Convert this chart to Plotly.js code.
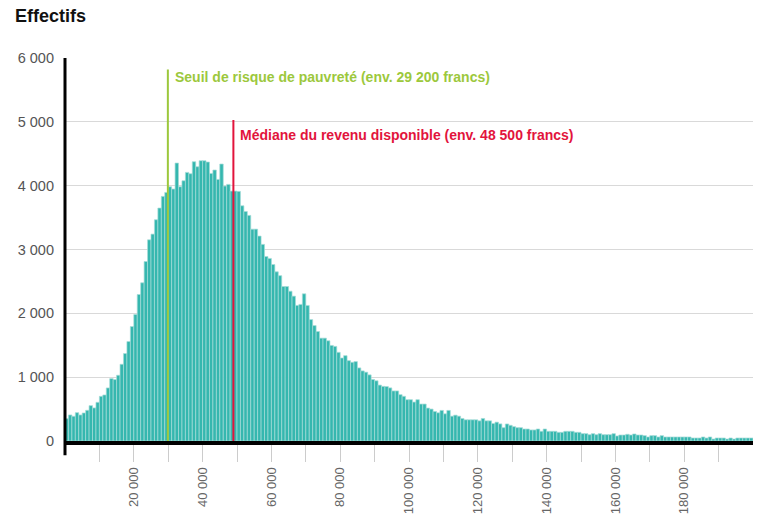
<!DOCTYPE html>
<html>
<head>
<meta charset="utf-8">
<script src="https://cdn.plot.ly/plotly-3.0.1.min.js"></script>
<style>html,body{margin:0;padding:0;background:#fff;}#chart{width:757px;height:519px;}</style>
</head>
<body>
<div id="chart"></div>
<script>
// Bin starts (francs), bin width 1000
const binWidth = 1000;
// Counts per 1000-franc bin, from 0 to 199 000
const counts = [
  350, 408, 387, 444, 408, 439, 481, 554, 518, 606,
  700, 721, 831, 977, 962, 1030, 1202, 1370, 1558, 1793,
  1981, 2295, 2478, 2812, 3152, 3241, 3466, 3649, 3832, 3894,
  3983, 3947, 4354, 3983, 4077, 4208, 4187, 4375, 4297, 4391,
  4391, 4370, 4192, 4245, 4098, 4339, 3994, 4020, 3915, 3915,
  3910, 3685, 3596, 3534, 3319, 3319, 3210, 3080, 2890, 2860,
  2765, 2650, 2590, 2420, 2420, 2347, 2269, 2124, 2140, 2306,
  2124, 1902, 1808, 1715, 1611, 1611, 1570, 1497, 1482, 1389,
  1300, 1337, 1259, 1233, 1244, 1145, 1098, 1078, 1036, 964,
  943, 876, 856, 853, 832, 784, 784, 726, 700, 647,
  647, 610, 647, 579, 579, 516, 500, 463, 442, 479,
  426, 479, 389, 405, 389, 353, 332, 332, 332, 332,
  316, 353, 316, 316, 274, 295, 268, 209, 267, 246,
  225, 209, 209, 188, 188, 173, 173, 188, 152, 188,
  152, 152, 152, 136, 136, 152, 152, 152, 136, 136,
  115, 115, 99, 115, 99, 115, 99, 99, 99, 115,
  79, 94, 94, 105, 94, 110, 94, 94, 84, 63,
  84, 84, 63, 84, 63, 63, 63, 63, 63, 63,
  63, 63, 47, 47, 47, 63, 47, 63, 31, 47,
  47, 47, 31, 47, 31, 47, 47, 47, 47, 47
];
const binCenters = counts.map((_, i) => i * binWidth + binWidth / 2);

// Axis ticks
const xTickVals = [10000, 20000, 30000, 40000, 50000, 60000, 70000, 80000, 90000, 100000,
                   110000, 120000, 130000, 140000, 150000, 160000, 170000, 180000, 190000];
const xTickText = ['', '20 000', '', '40 000', '', '60 000', '', '80 000', '', '100 000',
                   '', '120 000', '', '140 000', '', '160 000', '', '180 000', ''];
const yTickVals = [0, 1000, 2000, 3000, 4000, 5000, 6000];
const yTickText = ['0', '1 000', '2 000', '3 000', '4 000', '5 000', '6 000'];

// Reference lines (positions)
const povertyLine = 29900;
const povertyTop = 5820;
const povertyLabel = 'Seuil de risque de pauvreté (env. 29 200 francs)';
const medianLine = 48950;
const medianTop = 5030;
const medianLabel = 'Médiane du revenu disponible (env. 48 500 francs)';

const FONT = '"Liberation Sans", Arial, sans-serif';
const GREEN = '#9cc83c';
const RED = '#e2143c';

const trace = {
  type: 'bar',
  x: binCenters,
  y: counts,
  width: binWidth,
  marker: { color: '#35b7af', line: { color: '#a6dcd8', width: 0.7 } },
  hoverinfo: 'x+y'
};

const layout = {
  width: 757, height: 519,
  margin: { l: 65, r: 4, t: 58, b: 78 },
  paper_bgcolor: '#fff', plot_bgcolor: '#fff',
  font: { family: FONT, color: '#555', size: 13 },
  showlegend: false,
  bargap: 0,
  title: {
    text: '<b>Effectifs</b>',
    font: { family: FONT, size: 18, color: '#111' },
    x: 15 / 757, xref: 'container', xanchor: 'left',
    y: 1 - 16 / 519, yref: 'container', yanchor: 'middle'
  },
  xaxis: {
    range: [0, 200000],
    tickmode: 'array', tickvals: xTickVals, ticktext: xTickText,
    tickangle: -90,
    ticks: 'outside', ticklen: 17, tickcolor: '#cccccc', tickwidth: 1,
    tickfont: { family: FONT, size: 13, color: '#666' },
    showgrid: false, zeroline: false,
    showline: true, linecolor: '#000', linewidth: 4,
    fixedrange: true
  },
  yaxis: {
    range: [0, 6000],
    tickmode: 'array', tickvals: yTickVals, ticktext: yTickText,
    ticks: '', ticklabelstandoff: 10,
    tickfont: { family: FONT, size: 14.5, color: '#555' },
    showgrid: true, gridcolor: '#d9d9d9', gridwidth: 1,
    zeroline: false, showline: false,
    fixedrange: true
  },
  shapes: [
    { type: 'line', xref: 'paper', yref: 'paper', x0: 0, x1: 0, y0: -0.037, y1: 1,
      line: { color: '#000', width: 3 } },
    { type: 'line', xref: 'x', yref: 'y', x0: povertyLine, x1: povertyLine, y0: 0, y1: povertyTop,
      line: { color: GREEN, width: 2 } },
    { type: 'line', xref: 'x', yref: 'y', x0: medianLine, x1: medianLine, y0: 0, y1: medianTop,
      line: { color: RED, width: 2 } }
  ],
  annotations: [
    { xref: 'x', yref: 'y', x: povertyLine, y: 5700, xanchor: 'left', yanchor: 'middle',
      xshift: 5, showarrow: false, text: '<b>' + povertyLabel + '</b>',
      font: { family: FONT, size: 14, color: GREEN } },
    { xref: 'x', yref: 'y', x: medianLine, y: 4790, xanchor: 'left', yanchor: 'middle',
      xshift: 5, showarrow: false, text: '<b>' + medianLabel + '</b>',
      font: { family: FONT, size: 14, color: RED } }
  ]
};

Plotly.newPlot('chart', [trace], layout, { displayModeBar: false, staticPlot: true });
</script>
</body>
</html>
